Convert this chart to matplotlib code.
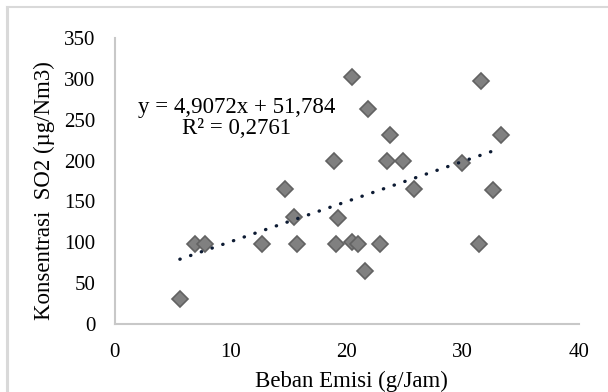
import numpy as np
import matplotlib
matplotlib.use("Agg")
import matplotlib.pyplot as plt
from matplotlib.lines import Line2D

plt.rcParams['font.family'] = ['Liberation Serif', 'DejaVu Serif']

# Data: beban emisi (g/Jam) vs konsentrasi SO2 (µg/Nm3)
beban = [5.6, 6.9, 7.8, 12.7, 14.7, 15.4, 15.7, 18.9, 19.2, 19.1,
         20.4, 20.4, 21.0, 21.8, 21.6, 22.9, 23.7, 23.5, 24.8, 25.8,
         29.9, 31.6, 31.4, 32.6, 33.3]
so2 = [31, 98, 98, 98, 165, 131, 98, 200, 130, 98,
       302, 100, 98, 263, 65, 98, 231, 200, 200, 165,
       197, 297, 98, 164, 231]

slope = 4.9072
intercept = 51.784
r2 = 0.2761

x_ticks = [0, 10, 20, 30, 40]
y_ticks = [0, 50, 100, 150, 200, 250, 300, 350]

fig = plt.figure(figsize=(6.08, 3.92), dpi=100)
ax = fig.add_axes([0.189, 0.1735, 0.763, 0.7296])

# garis tren linear
xt = np.array([min(beban), max(beban)])
ax.plot(xt, slope * xt + intercept, color='#0d1b33', lw=2.4,
        linestyle=(0, (0.1, 3.3)), dash_capstyle='round', zorder=3)

ax.plot(beban, so2, linestyle='none', marker='D', ms=8,
        markerfacecolor='#808080', markeredgecolor='#626262', mew=1.2, zorder=2)

ax.set_xlim(0, 40)
ax.set_ylim(0, 350)
ax.set_xticks(x_ticks)
ax.set_yticks(y_ticks)
ax.tick_params(length=0, labelsize=15, pad=14, colors='black')
for s in ['top', 'right']:
    ax.spines[s].set_visible(False)
for s in ['left', 'bottom']:
    ax.spines[s].set_color('#c8c8c8')
    ax.spines[s].set_linewidth(1.5)

ax.set_xlabel("Beban Emisi (g/Jam)", fontsize=16.5)
ax.set_ylabel("Konsentrasi  SO2 (µg/Nm3)", fontsize=16.5)
ax.xaxis.set_label_coords(0.51, -0.165)
ax.yaxis.set_label_coords(-0.13, 0.465)

eq = f"y = {slope:.4f}x + {intercept:.3f}".replace('.', ',')
rr = f"R² = {r2:.4f}".replace('.', ',')
ax.text(10.5, 252, eq + "\n" + rr, ha='center', va='center', fontsize=16.5,
        linespacing=1.05)

# bingkai grafik
fig.add_artist(Line2D([0.0123, 1], [0.981, 0.981], transform=fig.transFigure,
                      color='#d9d9d9', lw=1.5))
fig.add_artist(Line2D([0.0123, 0.0123], [0, 0.981], transform=fig.transFigure,
                      color='#d9d9d9', lw=2.2))

fig.savefig("out.png", dpi=100)
